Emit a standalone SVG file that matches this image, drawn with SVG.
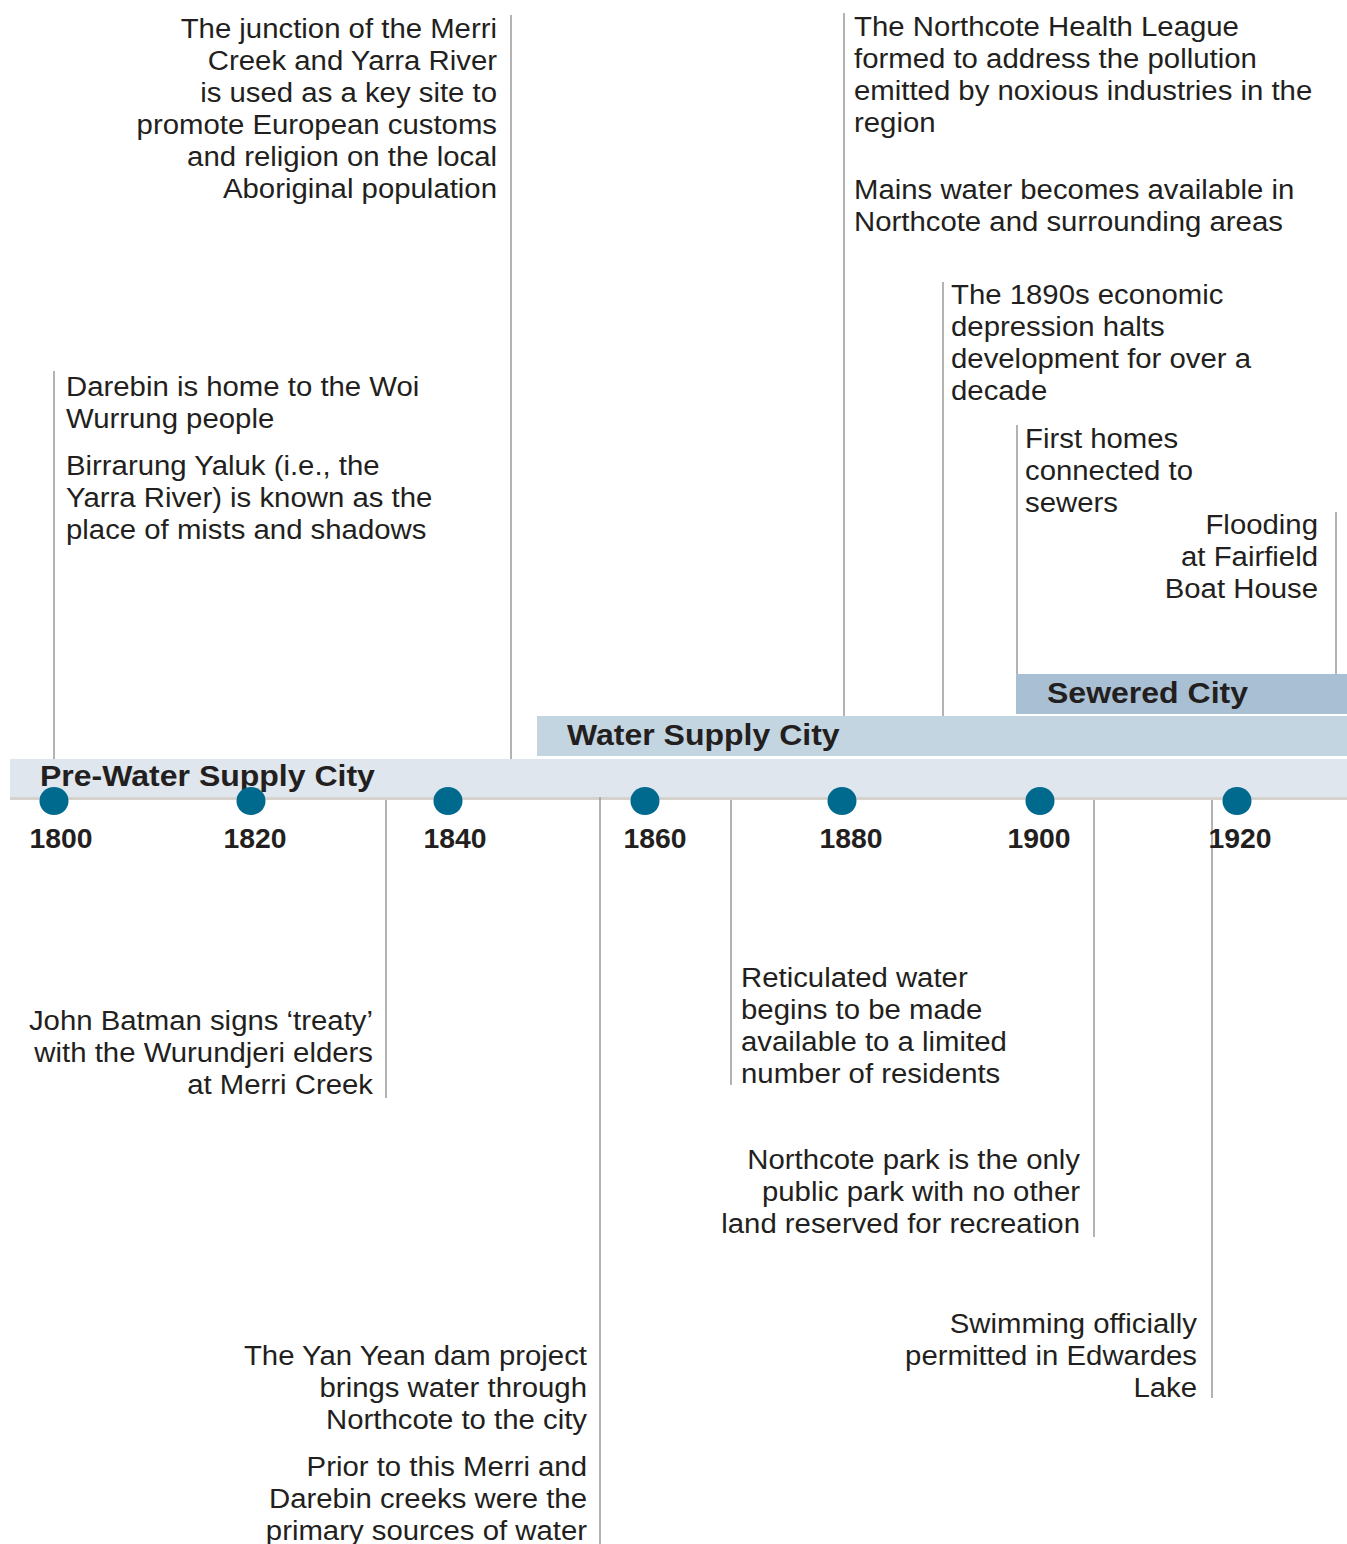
<svg xmlns="http://www.w3.org/2000/svg" width="1347" height="1544" viewBox="0 0 1347 1544">
<style>
.t{font-family:"Liberation Sans",Arial,sans-serif;font-size:27px;fill:#231f20}
.r{text-anchor:end}
.yr{font-family:"Liberation Sans",Arial,sans-serif;font-size:27px;font-weight:bold;fill:#231f20;text-anchor:middle}
.bl{font-family:"Liberation Sans",Arial,sans-serif;font-size:30px;font-weight:bold;fill:#231f20}
.ln{stroke:#9a9a9a;stroke-width:1.5;fill:none}
.dot{fill:#006a8e}
</style>
<rect width="1347" height="1544" fill="#ffffff"/>
<g id="bands">
<rect id="band-pre" x="10" y="759" width="1337" height="39" fill="#dfe6ee"/>
<rect x="10" y="797" width="1337" height="3" fill="#d6d3ce"/>
<rect id="band-water" x="537" y="716" width="810" height="40" fill="#c4d5e2"/>
<rect id="band-sewer" x="1016" y="674" width="331" height="40" fill="#a9bfd3"/>
<text class="bl" transform="translate(40,0) scale(1.067,1)" x="0" y="786">Pre-Water Supply City</text>
<text class="bl" transform="translate(567,0) scale(1.067,1)" x="0" y="745">Water Supply City</text>
<text class="bl" transform="translate(1047,0) scale(1.067,1)" x="0" y="703">Sewered City</text>
</g>
<g id="connectors">
<line class="ln" x1="54" y1="371" x2="54" y2="759"/>
<line class="ln" x1="511" y1="15" x2="511" y2="759"/>
<line class="ln" x1="844" y1="13" x2="844" y2="716"/>
<line class="ln" x1="943" y1="282" x2="943" y2="716"/>
<line class="ln" x1="1017" y1="425" x2="1017" y2="674"/>
<line class="ln" x1="1336" y1="512" x2="1336" y2="674"/>
<line class="ln" x1="386" y1="800" x2="386" y2="1098"/>
<line class="ln" x1="600" y1="797" x2="600" y2="1544"/>
<line class="ln" x1="731" y1="800" x2="731" y2="1085"/>
<line class="ln" x1="1094" y1="800" x2="1094" y2="1237"/>
<line class="ln" x1="1212" y1="800" x2="1212" y2="1398"/>
</g>
<g id="years">
<ellipse class="dot" cx="54" cy="801" rx="14.5" ry="14"/>
<ellipse class="dot" cx="251" cy="801" rx="14.5" ry="14"/>
<ellipse class="dot" cx="448" cy="801" rx="14.5" ry="14"/>
<ellipse class="dot" cx="645" cy="801" rx="14.5" ry="14"/>
<ellipse class="dot" cx="842" cy="801" rx="14.5" ry="14"/>
<ellipse class="dot" cx="1040" cy="801" rx="14.5" ry="14"/>
<ellipse class="dot" cx="1237" cy="801" rx="14.5" ry="14"/>
<text class="yr" transform="translate(61,0) scale(1.05,1)" x="0" y="848">1800</text>
<text class="yr" transform="translate(255,0) scale(1.05,1)" x="0" y="848">1820</text>
<text class="yr" transform="translate(455,0) scale(1.05,1)" x="0" y="848">1840</text>
<text class="yr" transform="translate(655,0) scale(1.05,1)" x="0" y="848">1860</text>
<text class="yr" transform="translate(851,0) scale(1.05,1)" x="0" y="848">1880</text>
<text class="yr" transform="translate(1039,0) scale(1.05,1)" x="0" y="848">1900</text>
<text class="yr" transform="translate(1240,0) scale(1.05,1)" x="0" y="848">1920</text>
</g>
<g id="ev-junction" class="t r" transform="translate(497,0) scale(1.087,1)">
<text x="0" y="38">The junction of the Merri</text>
<text x="0" y="70">Creek and Yarra River</text>
<text x="0" y="102">is used as a key site to</text>
<text x="0" y="134">promote European customs</text>
<text x="0" y="166">and religion on the local</text>
<text x="0" y="198">Aboriginal population</text>
</g>
<g id="ev-darebin" class="t" transform="translate(66,0) scale(1.087,1)">
<text x="0" y="396">Darebin is home to the Woi</text>
<text x="0" y="428">Wurrung people</text>
<text x="0" y="475">Birrarung Yaluk (i.e., the</text>
<text x="0" y="507">Yarra River) is known as the</text>
<text x="0" y="539">place of mists and shadows</text>
</g>
<g id="ev-health" class="t" transform="translate(854,0) scale(1.087,1)">
<text x="0" y="36">The Northcote Health League</text>
<text x="0" y="68">formed to address the pollution</text>
<text x="0" y="100">emitted by noxious industries in the</text>
<text x="0" y="132">region</text>
<text x="0" y="199">Mains water becomes available in</text>
<text x="0" y="231">Northcote and surrounding areas</text>
</g>
<g id="ev-depression" class="t" transform="translate(951,0) scale(1.087,1)">
<text x="0" y="304">The 1890s economic</text>
<text x="0" y="336">depression halts</text>
<text x="0" y="368">development for over a</text>
<text x="0" y="400">decade</text>
</g>
<g id="ev-sewers" class="t" transform="translate(1025,0) scale(1.087,1)">
<text x="0" y="448">First homes</text>
<text x="0" y="480">connected to</text>
<text x="0" y="512">sewers</text>
</g>
<g id="ev-flooding" class="t r" transform="translate(1318,0) scale(1.087,1)">
<text x="0" y="534">Flooding</text>
<text x="0" y="566">at Fairfield</text>
<text x="0" y="598">Boat House</text>
</g>
<g id="ev-batman" class="t r" transform="translate(373,0) scale(1.087,1)">
<text x="0" y="1030">John Batman signs ‘treaty’</text>
<text x="0" y="1062">with the Wurundjeri elders</text>
<text x="0" y="1094">at Merri Creek</text>
</g>
<g id="ev-yanyean" class="t r" transform="translate(587,0) scale(1.087,1)">
<text x="0" y="1365">The Yan Yean dam project</text>
<text x="0" y="1397">brings water through</text>
<text x="0" y="1429">Northcote to the city</text>
<text x="0" y="1476">Prior to this Merri and</text>
<text x="0" y="1508">Darebin creeks were the</text>
<text x="0" y="1540">primary sources of water</text>
</g>
<g id="ev-reticulated" class="t" transform="translate(741,0) scale(1.087,1)">
<text x="0" y="987">Reticulated water</text>
<text x="0" y="1019">begins to be made</text>
<text x="0" y="1051">available to a limited</text>
<text x="0" y="1083">number of residents</text>
</g>
<g id="ev-park" class="t r" transform="translate(1080,0) scale(1.087,1)">
<text x="0" y="1169">Northcote park is the only</text>
<text x="0" y="1201">public park with no other</text>
<text x="0" y="1233">land reserved for recreation</text>
</g>
<g id="ev-swimming" class="t r" transform="translate(1197,0) scale(1.087,1)">
<text x="0" y="1333">Swimming officially</text>
<text x="0" y="1365">permitted in Edwardes</text>
<text x="0" y="1397">Lake</text>
</g>
</svg>
